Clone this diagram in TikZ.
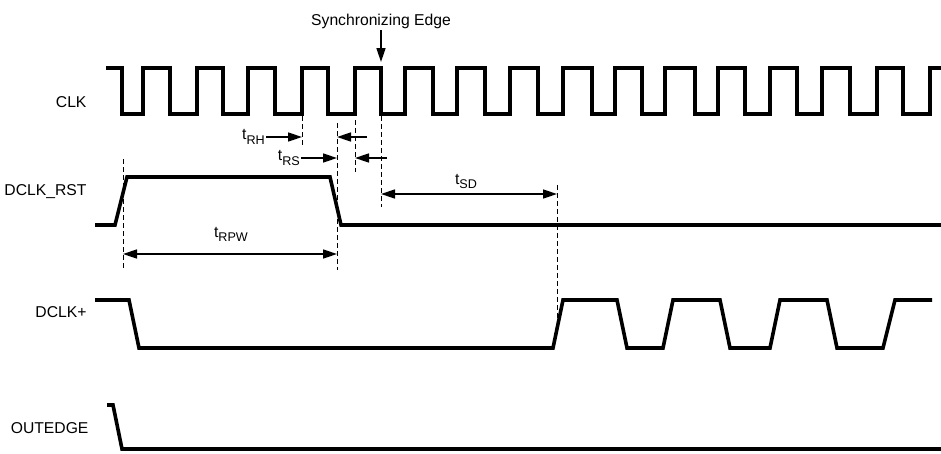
\documentclass[tikz,border=0pt]{standalone}
\usepackage{fontspec}
\setmainfont{Liberation Sans}
\usetikzlibrary{arrows.meta}
\newcommand{\tlab}[1]{t\raisebox{-4.5pt}{\fontsize{12.6}{14}\selectfont #1}}

\begin{document}
\begin{tikzpicture}[x=1pt,y=-1pt,>={Triangle[length=14pt,width=9pt]},
  font=\fontsize{15.7}{18}\selectfont]
  \tikzstyle{wave}=[line width=3.6pt, line join=miter]
  \tikzstyle{guide}=[line width=0.9pt, dash pattern=on 5pt off 3pt]
  \tikzstyle{dim}=[line width=1.6pt]
  \tikzstyle{tname}=[inner sep=1pt]
  \useasboundingbox (0,0) rectangle (941,453);

  % signal names
  \node[anchor=base east] (clk)     at (90,107) {CLK};
  \node[anchor=base east] (rst)     at (90,195) {DCLK\_RST};
  \node[anchor=base east] (dclk)    at (90,317) {DCLK+};
  \node[anchor=base east] (outedge) at (92,433) {OUTEDGE};

  % waveforms
  \draw[wave] (106,68)
    foreach \f/\r in {122/143,170/197,223/248,275/302,328/355,381/405,
                      433/457,485/510,538/563,592/615,642/665,695/718,
                      745/770,797/822,850/877,903/930}
    { -| (\f,114) -| (\r,68) } -- (941,68);
  \draw[wave] (95,225) -- (115,225) -- (127,177) -- (330,177) -- (341,225) -- (941,225);
  \draw[wave] (95,300) -- (129,300) -- (139,348) -- (553,348) -- (563,300)
    -- (617,300) -- (627,348) -- (663,348) -- (673,300) -- (720,300)
    -- (730,348) -- (770,348) -- (780,300) -- (827,300) -- (837,348)
    -- (883,348) -- (895,300) -- (932,300);
  \draw[wave] (107,405) -- (113,405) -- (122,449) -- (941,449);

  % guides
  \draw[guide] (123,159) -- (123,270);
  \draw[guide] (302,116) -- (302,147);
  \draw[guide] (337,123) -- (337,270);
  \draw[guide] (355,120) -- (355,172);
  \draw[guide] (381,116) -- (381,207);
  \draw[guide] (557,185) -- (557,326);

  % synchronizing edge
  \node[anchor=base, inner sep=2pt] (sync) at (381,25) {Synchronizing Edge};
  \coordinate (syncedge) at (381,62);
  \draw[dim,->] (sync.south) -- (syncedge);

  % timing parameters
  \node[tname, anchor=east] (trh) at (266,137) {\tlab{RH}};
  \node[tname, anchor=east] (trs) at (301,158) {\tlab{RS}};
  \node (trpw) at (231,234.5) {\tlab{RPW}};
  \node (tsd)  at (466,181.5) {\tlab{SD}};

  \coordinate (rhtip)  at (302,137);
  \coordinate (rhtail) at (367,137);
  \coordinate (rhend)  at (337,137);
  \coordinate (rstip)  at (337,158);
  \coordinate (rstail) at (387,158);
  \coordinate (rsend)  at (355,158);
  \coordinate (pwa) at (123,254);
  \coordinate (pwb) at (337,254);
  \coordinate (sda) at (381,194);
  \coordinate (sdb) at (557,194);

  \draw[dim,->] (trh) -- (rhtip);
  \draw[dim,->] (rhtail) -- (rhend);
  \draw[dim,->] (trs) -- (rstip);
  \draw[dim,->] (rstail) -- (rsend);
  \draw[dim,<->] (pwa) -- (pwb);
  \draw[dim,<->] (sda) -- (sdb);
\end{tikzpicture}
\end{document}
